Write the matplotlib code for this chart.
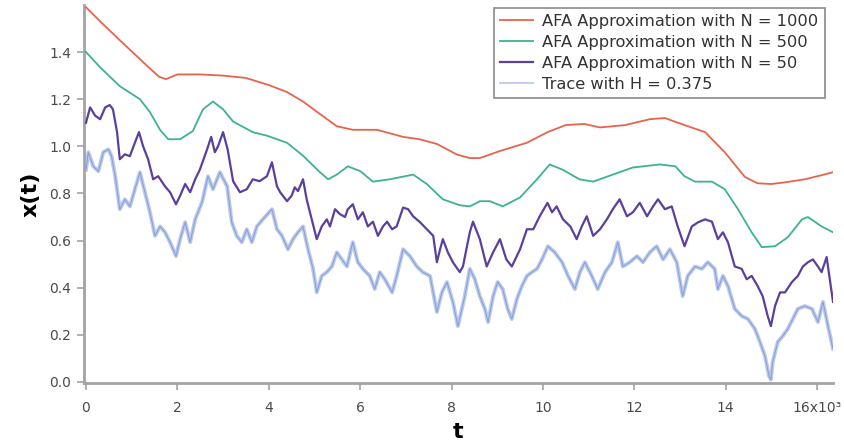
import matplotlib
matplotlib.use("Agg")
import matplotlib.pyplot as plt
import numpy as np

# time axis in units of 1e3
t_n1000 = [0, 0.31, 0.74, 1.18, 1.40, 1.60, 1.75, 2.0, 2.5, 3.0,
           3.5, 4.0, 4.4, 4.75, 5.1, 5.49, 5.84, 6.37, 6.94, 7.3,
           7.68, 8.12, 8.4, 8.62, 9.06, 9.65, 10.1, 10.5, 10.9, 11.25,
           11.8, 12.34, 12.67, 13.1, 13.55, 13.98, 14.42, 14.7, 15.0, 15.3,
           15.73, 16.05, 16.35]
x_n1000 = [1.59, 1.53, 1.45, 1.37, 1.33, 1.295, 1.285, 1.305, 1.305, 1.30,
           1.29, 1.26, 1.23, 1.19, 1.14, 1.085, 1.07, 1.07, 1.04, 1.03,
           1.01, 0.965, 0.95, 0.95, 0.98, 1.015, 1.06, 1.09, 1.095, 1.08,
           1.09, 1.115, 1.12, 1.09, 1.06, 0.975, 0.87, 0.843, 0.84, 0.847,
           0.86, 0.875, 0.89]

t_n500 = [0, 0.31, 0.74, 1.18, 1.40, 1.62, 1.8, 2.06, 2.34, 2.56,
          2.78, 3.0, 3.22, 3.65, 3.96, 4.4, 4.75, 5.12, 5.3, 5.49,
          5.73, 6.0, 6.28, 6.65, 7.16, 7.46, 7.81, 8.18, 8.4, 8.62,
          8.84, 9.12, 9.5, 9.87, 10.15, 10.44, 10.8, 11.1, 11.53, 11.97,
          12.56, 12.9, 13.1, 13.33, 13.7, 13.98, 14.27, 14.57, 14.79, 15.08,
          15.36, 15.67, 15.8, 16.1, 16.35]
x_n500 = [1.40, 1.335, 1.255, 1.20, 1.145, 1.07, 1.03, 1.03, 1.065, 1.157,
          1.19, 1.157, 1.105, 1.06, 1.045, 1.015, 0.96, 0.89, 0.86, 0.88,
          0.915, 0.895, 0.85, 0.86, 0.88, 0.84, 0.775, 0.75, 0.745, 0.767,
          0.767, 0.745, 0.783, 0.86, 0.923, 0.90, 0.86, 0.85, 0.88, 0.91,
          0.923, 0.915, 0.873, 0.85, 0.85, 0.818, 0.733, 0.635, 0.572, 0.576,
          0.614, 0.69, 0.70, 0.66, 0.635]

t_n50 = [0, 0.09, 0.2, 0.31, 0.42, 0.52, 0.59, 0.68, 0.74, 0.85,
         0.96, 1.07, 1.16, 1.25, 1.36, 1.47, 1.58, 1.73, 1.84, 1.97,
         2.06, 2.17, 2.28, 2.39, 2.49, 2.65, 2.74, 2.82, 2.89, 3.0,
         3.1, 3.22, 3.37, 3.52, 3.65, 3.8, 3.96, 4.07, 4.18, 4.25,
         4.4, 4.5, 4.57, 4.64, 4.75, 4.83, 4.94, 5.05, 5.16, 5.27,
         5.34, 5.45, 5.56, 5.67, 5.73, 5.84, 5.95, 6.06, 6.17, 6.28,
         6.39, 6.5, 6.59, 6.7, 6.8, 6.94, 7.05, 7.16, 7.31, 7.46,
         7.6, 7.68, 7.75, 7.81, 7.92, 8.03, 8.18, 8.25, 8.4, 8.47,
         8.62, 8.77, 8.91, 9.06, 9.2, 9.32, 9.5, 9.65, 9.79, 9.93,
         10.1, 10.2, 10.3, 10.44, 10.6, 10.74, 10.85, 10.96, 11.1, 11.25,
         11.4, 11.53, 11.68, 11.84, 11.97, 12.12, 12.28, 12.41, 12.52, 12.67,
         12.82, 12.95, 13.1, 13.26, 13.4, 13.55, 13.7, 13.83, 13.94, 14.05,
         14.2, 14.35, 14.46, 14.57, 14.7, 14.81, 14.92, 14.99, 15.08, 15.19,
         15.3, 15.45, 15.58, 15.69, 15.8, 15.91, 16.02, 16.1, 16.21, 16.28,
         16.35]
x_n50 = [1.10, 1.165, 1.13, 1.115, 1.165, 1.175, 1.157, 1.06, 0.945, 0.966,
         0.958, 1.015, 1.06, 1.0, 0.945, 0.86, 0.873, 0.83, 0.805, 0.754,
         0.79, 0.84, 0.805, 0.86, 0.90, 0.987, 1.04, 0.975, 1.0, 1.06,
         0.987, 0.852, 0.805, 0.818, 0.86, 0.852, 0.873, 0.932, 0.83, 0.805,
         0.767, 0.79, 0.826, 0.81, 0.86, 0.775, 0.69, 0.606, 0.66, 0.69,
         0.66, 0.733, 0.712, 0.70, 0.733, 0.754, 0.69, 0.72, 0.66, 0.68,
         0.62, 0.66, 0.68, 0.648, 0.66, 0.74, 0.733, 0.703, 0.678, 0.648,
         0.62, 0.508, 0.563, 0.606, 0.55, 0.508, 0.466, 0.49, 0.635, 0.68,
         0.606, 0.49, 0.55, 0.606, 0.52, 0.49, 0.563, 0.648, 0.648, 0.703,
         0.76, 0.72, 0.745, 0.69, 0.66, 0.606, 0.66, 0.703, 0.62, 0.648,
         0.69, 0.733, 0.775, 0.703, 0.72, 0.76, 0.703, 0.745, 0.775, 0.733,
         0.745, 0.66, 0.576, 0.66, 0.678, 0.69, 0.68, 0.606, 0.635, 0.593,
         0.49, 0.48, 0.436, 0.45, 0.407, 0.364, 0.28, 0.237, 0.322, 0.38,
         0.38, 0.424, 0.45, 0.49, 0.508, 0.52, 0.49, 0.466, 0.53, 0.436,
         0.34]

t_trace = [0, 0.05, 0.16, 0.27, 0.38, 0.49, 0.56, 0.64, 0.74, 0.85,
           0.96, 1.07, 1.18, 1.29, 1.40, 1.51, 1.62, 1.73, 1.84, 1.97,
           2.06, 2.17, 2.28, 2.39, 2.54, 2.67, 2.78, 2.93, 3.09, 3.19,
           3.3, 3.41, 3.52, 3.63, 3.74, 3.87, 4.07, 4.18, 4.29, 4.42,
           4.53, 4.64, 4.75, 4.86, 4.97, 5.05, 5.16, 5.27, 5.38, 5.49,
           5.6, 5.71, 5.84, 5.95, 6.06, 6.21, 6.32, 6.43, 6.54, 6.7,
           6.8, 6.94, 7.09, 7.24, 7.37, 7.53, 7.68, 7.79, 7.9, 8.03,
           8.14, 8.29, 8.4, 8.51, 8.62, 8.73, 8.8, 8.91, 9.01, 9.12,
           9.23, 9.32, 9.43, 9.54, 9.65, 9.76, 9.87, 9.98, 10.11, 10.26,
           10.42, 10.55, 10.7, 10.81, 10.92, 11.07, 11.2, 11.36, 11.51, 11.64,
           11.75, 11.9, 12.06, 12.19, 12.34, 12.49, 12.63, 12.78, 12.93, 13.06,
           13.17, 13.33, 13.48, 13.61, 13.76, 13.83, 13.94, 14.05, 14.2, 14.35,
           14.49, 14.64, 14.75, 14.86, 14.95, 14.99, 15.03, 15.14, 15.25, 15.36,
           15.47, 15.58, 15.73, 15.89, 16.02, 16.13, 16.24, 16.35]
x_trace = [0.90, 0.975, 0.915, 0.894, 0.975, 0.987, 0.958, 0.873, 0.733, 0.775,
           0.745, 0.818, 0.89, 0.805, 0.72, 0.62, 0.66, 0.635, 0.593, 0.534,
           0.606, 0.678, 0.593, 0.69, 0.763, 0.873, 0.818, 0.89, 0.83, 0.678,
           0.62, 0.593, 0.648, 0.593, 0.66, 0.69, 0.733, 0.648, 0.62, 0.563,
           0.606, 0.635, 0.66, 0.563, 0.48, 0.38, 0.45, 0.466, 0.49, 0.55,
           0.52, 0.49, 0.593, 0.508, 0.48, 0.45, 0.394, 0.466, 0.436, 0.38,
           0.45, 0.563, 0.534, 0.49, 0.466, 0.45, 0.297, 0.38, 0.424, 0.34,
           0.237, 0.364, 0.48, 0.436, 0.364, 0.31, 0.254, 0.364, 0.424, 0.394,
           0.31, 0.267, 0.352, 0.407, 0.45, 0.466, 0.48, 0.52, 0.576, 0.55,
           0.508, 0.45, 0.394, 0.466, 0.508, 0.45, 0.394, 0.466, 0.508, 0.593,
           0.49, 0.508, 0.534, 0.508, 0.55, 0.576, 0.52, 0.563, 0.508, 0.364,
           0.45, 0.49, 0.48, 0.508, 0.48, 0.394, 0.45, 0.407, 0.31, 0.28,
           0.267, 0.225, 0.17, 0.11, 0.025, 0.01, 0.085, 0.17, 0.195, 0.225,
           0.267, 0.31, 0.322, 0.31, 0.254, 0.34, 0.237, 0.14]

labels = ["AFA Approximation with N = 1000",
          "AFA Approximation with N = 500",
          "AFA Approximation with N = 50",
          "Trace with H = 0.375"]
colors = ["#e8634e", "#3db38c", "#5b3f9c", "#a9bde9"]

fig = plt.figure(figsize=(8.44, 4.45), dpi=100)
ax = fig.add_axes([0.0995, 0.139, 0.8875, 0.85])

scale = 1000.0
# trace: soft wide band with a darker core
ax.plot(np.array(t_trace) * scale, x_trace, color=colors[3], lw=2.8,
        alpha=0.8, label=labels[3], zorder=1)
ax.plot(np.array(t_trace) * scale, x_trace, color="#7189cc", lw=0.7,
        alpha=0.7, zorder=2)
ax.plot(np.array(t_n50) * scale, x_n50, color=colors[2], lw=1.6,
        label=labels[2], zorder=3)
ax.plot(np.array(t_n500) * scale, x_n500, color=colors[1], lw=1.3,
        label=labels[1], zorder=3)
ax.plot(np.array(t_n1000) * scale, x_n1000, color=colors[0], lw=1.3,
        label=labels[0], zorder=3)

ax.set_xlim(-44, 16350)
ax.set_ylim(-0.005, 1.60)

xt = np.arange(0, 16001, 2000)
ax.set_xticks(xt)
ax.set_xticklabels([str(v // 1000) for v in xt[:-1]] + ["16x10\u00b3"])
ax.set_yticks(np.arange(0, 1.41, 0.2))
ax.set_yticklabels([f"{v:.1f}" for v in np.arange(0, 1.41, 0.2)])

for side in ["top", "right"]:
    ax.spines[side].set_visible(False)
for side in ["left", "bottom"]:
    ax.spines[side].set_color("#a3a3a3")
    ax.spines[side].set_linewidth(2)

ax.tick_params(direction="out", length=5, width=1.2, color="#a3a3a3",
               labelcolor="#4a4a4a", labelsize=10)
ax.tick_params(axis="x", pad=8)
ax.tick_params(axis="y", pad=4)

ax.set_xlabel("t", fontsize=16, fontweight="bold", labelpad=5)
ax.set_ylabel("x(t)", fontsize=16, fontweight="bold", labelpad=6)

handles, texts = ax.get_legend_handles_labels()
order = [3, 2, 1, 0]
leg = ax.legend([handles[i] for i in order], [texts[i] for i in order],
                loc="upper right", bbox_to_anchor=(0.989, 0.992),
                fontsize=11.7, frameon=True, fancybox=False, framealpha=1,
                edgecolor="#8a8a8a", handlelength=2.0, handletextpad=0.6,
                labelspacing=0.36, borderpad=0.38, borderaxespad=0)
leg.get_frame().set_linewidth(1.2)
leg.get_lines()[3].set_linewidth(1.3)
for txt in leg.get_texts():
    txt.set_color("#333333")

fig.savefig("out.png", dpi=100)
